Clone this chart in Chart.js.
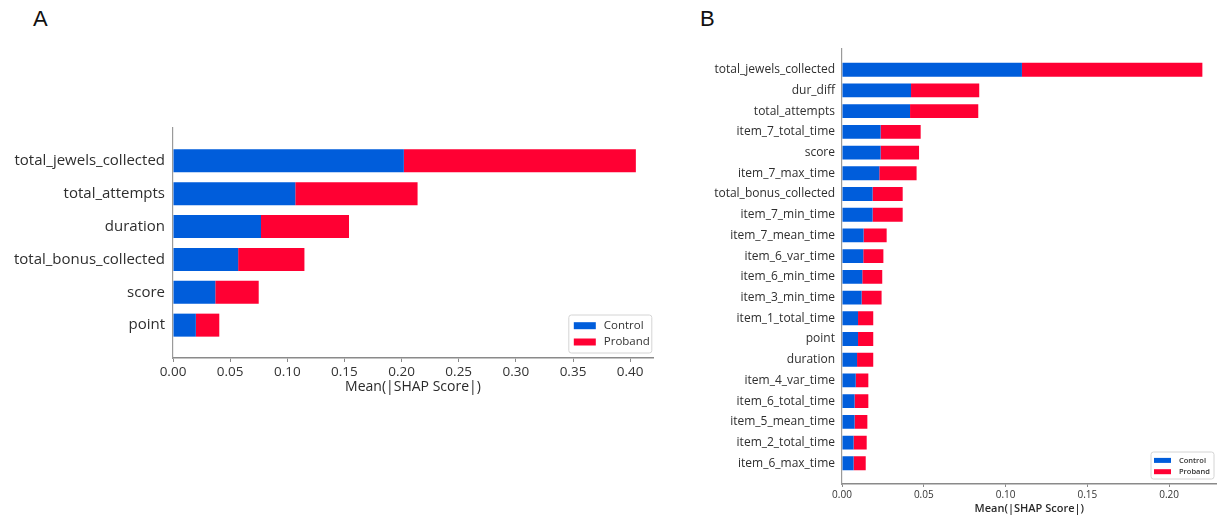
<!DOCTYPE html>
<html>
<head>
<meta charset="utf-8">
<script src="https://cdn.jsdelivr.net/npm/chart.js@4/dist/chart.umd.min.js"></script>
<style>
  html, body { margin: 0; padding: 0; background: #fff; width: 1218px; height: 517px; overflow: hidden; }
  .panel { position: absolute; top: 0; }
  .tag { position: absolute; font-family: "Liberation Sans", Arial, sans-serif; font-size: 22px; color: #111; line-height: 1; }
</style>
</head>
<body>
<div class="tag" style="left:33px; top:8px;">A</div>
<div class="tag" style="left:700px; top:8px;">B</div>
<div class="panel" style="left:0px;"><canvas id="chartA" width="670" height="517"></canvas></div>
<div class="panel" style="left:680px;"><canvas id="chartB" width="538" height="517"></canvas></div>
<script>
// Panel A: six game features, mean |SHAP| per class
const featuresA = ['total_jewels_collected', 'total_attempts', 'duration', 'total_bonus_collected', 'score', 'point'];
const controlA  = [0.202, 0.107, 0.077, 0.057, 0.037, 0.020];
const probandA  = [0.203, 0.107, 0.077, 0.058, 0.038, 0.0205];

// Panel B: top twenty features
const featuresB = ['total_jewels_collected', 'dur_diff', 'total_attempts', 'item_7_total_time', 'score',
  'item_7_max_time', 'total_bonus_collected', 'item_7_min_time', 'item_7_mean_time', 'item_6_var_time',
  'item_6_min_time', 'item_3_min_time', 'item_1_total_time', 'point', 'duration', 'item_4_var_time',
  'item_6_total_time', 'item_5_mean_time', 'item_2_total_time', 'item_6_max_time'];
const controlB = [0.1100, 0.0422, 0.0416, 0.0236, 0.0236, 0.0228, 0.0187, 0.0187, 0.0132, 0.0130,
  0.0124, 0.0120, 0.0098, 0.0098, 0.0092, 0.0084, 0.0077, 0.0077, 0.0071, 0.0071];
const probandB = [0.1103, 0.0417, 0.0417, 0.0245, 0.0235, 0.0228, 0.0184, 0.0184, 0.0141, 0.0123,
  0.0122, 0.0122, 0.0093, 0.0093, 0.0099, 0.0077, 0.0084, 0.0078, 0.0080, 0.0074];

// x-axis tick labels
const ticksA = ['0.00', '0.05', '0.10', '0.15', '0.20', '0.25', '0.30', '0.35', '0.40'];
const ticksB = ['0.00', '0.05', '0.10', '0.15', '0.20'];

const seriesNames = ['Control', 'Proband'];
const BLUE = '#005ddb';
const RED = '#ff0033';
const AXIS_TITLE = 'Mean(|SHAP Score|)';

// Legend drawn inside the plot, lower-right corner
const insetLegend = {
  id: 'insetLegend',
  afterDatasetsDraw(chart, args, o) {
    const { ctx, chartArea: a } = chart;
    const x = a.right - o.right - o.width;
    const y = a.bottom - o.bottom - o.height;
    ctx.save();
    ctx.beginPath();
    ctx.roundRect(x, y, o.width, o.height, 2.5);
    ctx.fillStyle = 'rgba(255,255,255,0.9)';
    ctx.fill();
    ctx.strokeStyle = '#d4d4d4';
    ctx.lineWidth = 1;
    ctx.stroke();
    ctx.font = o.font;
    ctx.textBaseline = 'middle';
    ctx.textAlign = 'left';
    chart.data.datasets.forEach((ds, i) => {
      const cy = y + o.first + i * o.gap;
      ctx.fillStyle = ds.backgroundColor;
      ctx.fillRect(x + o.pad, cy - o.sh / 2, o.sw, o.sh);
      ctx.fillStyle = '#333';
      ctx.fillText(ds.label, x + o.pad + o.sw + o.tgap, cy);
    });
    ctx.restore();
  }
};

function makeChart(id, features, control, proband, tickLabels, s) {
  const step = 0.05;
  return new Chart(document.getElementById(id), {
    type: 'bar',
    data: {
      datasets: [
        { label: seriesNames[0], data: control.map((v, i) => ({ x: v, y: i })), backgroundColor: BLUE },
        { label: seriesNames[1], data: proband.map((v, i) => ({ x: v, y: i })), backgroundColor: RED }
      ]
    },
    options: {
      indexAxis: 'y',
      responsive: false,
      animation: false,
      devicePixelRatio: 1,
      categoryPercentage: 1,
      barPercentage: s.barPct,
      layout: { padding: { top: s.padTop, right: s.padRight, bottom: s.padBottom, left: 0 } },
      plugins: {
        legend: { display: false },
        tooltip: { enabled: false },
        insetLegend: s.legend
      },
      scales: {
        x: {
          type: 'linear',
          stacked: true,
          bounds: 'data',
          min: 0,
          max: s.xMax,
          afterFit: sc => { sc.height = s.xHeight; },
          afterBuildTicks: sc => { sc.ticks = tickLabels.map((_, i) => ({ value: i * step })); },
          ticks: {
            autoSkip: false,
            maxRotation: 0,
            padding: s.tickPad,
            color: '#333',
            font: { family: 'Open Sans', size: s.tickSize },
            callback: (v, i) => tickLabels[i]
          },
          grid: { display: true, drawOnChartArea: false, drawTicks: true, tickLength: s.tickLen, color: '#8a8a8a', lineWidth: 1 },
          border: { display: true, color: '#8a8a8a', width: s.spineW },
          title: {
            display: true,
            text: AXIS_TITLE,
            color: '#2a2a2a',
            font: { family: 'Open Sans', size: s.titleSize, weight: s.titleWeight },
            padding: { top: 0, bottom: s.titlePadBottom }
          }
        },
        y: {
          type: 'linear',
          stacked: true,
          reverse: true,
          offset: false,
          bounds: 'data',
          min: -1,
          max: features.length,
          afterFit: sc => { sc.width = s.yWidth; },
          afterBuildTicks: sc => { sc.ticks = features.map((_, i) => ({ value: i })); },
          ticks: {
            autoSkip: false,
            padding: s.labelPad,
            color: '#2e2e2e',
            font: { family: 'Open Sans', size: s.labelSize },
            callback: v => features[v]
          },
          grid: { display: true, offset: false, drawOnChartArea: false, drawTicks: false },
          border: { display: true, color: '#9a9a9a', width: 1.2 }
        }
      }
    },
    plugins: [insetLegend]
  });
}

makeChart('chartA', featuresA, controlA, probandA, ticksA, {
  barPct: 0.7, xMax: 0.42,
  padTop: 128, padRight: 17, padBottom: 109, xHeight: 50,
  yWidth: 173, labelPad: 8, labelSize: 15,
  tickSize: 13.5, tickPad: 2, tickLen: 4, spineW: 1.6,
  titleSize: 14, titleWeight: 'normal', titlePadBottom: 13,
  legend: { width: 83, height: 38, right: 1.2, bottom: 5, pad: 5, sw: 22, sh: 7, first: 10.7, gap: 16.3, tgap: 8,
            font: '11.5px "Open Sans"' }
});

makeChart('chartB', featuresB, controlB, probandB, ticksB, {
  barPct: 0.67, xMax: 0.229,
  padTop: 49, padRight: 1.4, padBottom: 0, xHeight: 33,
  yWidth: 162, labelPad: 7, labelSize: 12,
  tickSize: 10, tickPad: 2, tickLen: 3, spineW: 1.4,
  titleSize: 11, titleWeight: '600', titlePadBottom: 2,
  legend: { width: 63, height: 27, right: 2.6, bottom: 5, pad: 3, sw: 17, sh: 5, first: 8.4, gap: 11.3, tgap: 8,
            font: '600 7.5px "Open Sans"' }
});
</script>
</body>
</html>
